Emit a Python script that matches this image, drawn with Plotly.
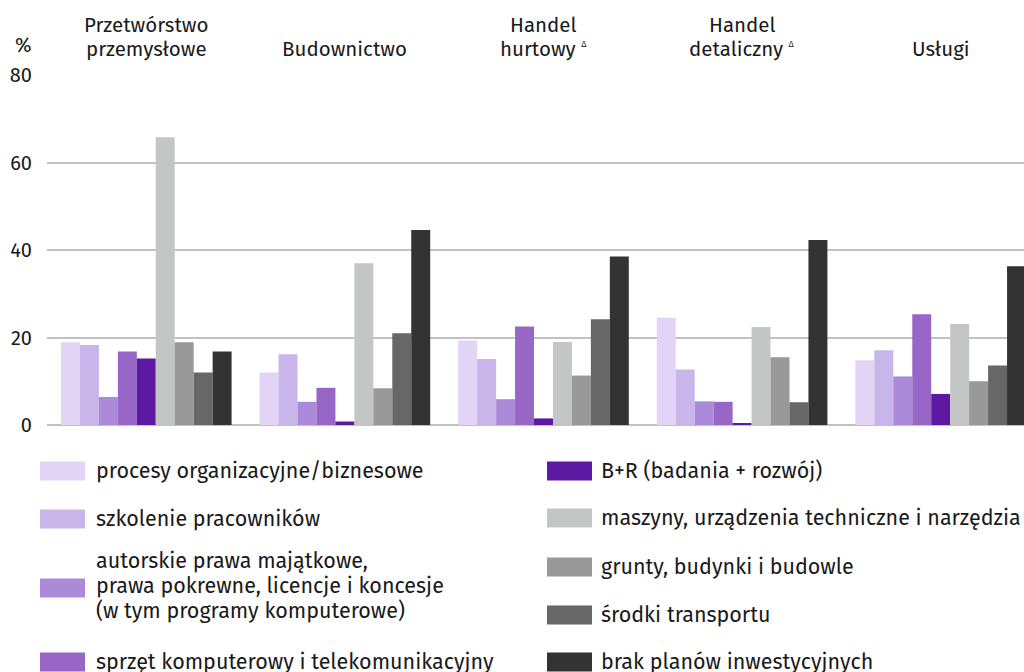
import plotly.graph_objects as go

# ---- data ----
categories = ["Przetwórstwo przemysłowe", "Budownictwo", "Handel hurtowy", "Handel detaliczny", "Usługi"]
category_lines = [
    ["Przetwórstwo", "przemysłowe"],
    ["", "Budownictwo"],
    ["Handel", "hurtowy <sup><span style='font-size:9px'>Δ</span></sup>"],
    ["Handel", "detaliczny <sup><span style='font-size:9px'>Δ</span></sup>"],
    ["", "Usługi"],
]

series_names = [
    "procesy organizacyjne/biznesowe",
    "szkolenie pracowników",
    "autorskie prawa majątkowe, prawa pokrewne, licencje i koncesje (w tym programy komputerowe)",
    "sprzęt komputerowy i telekomunikacyjny",
    "B+R (badania + rozwój)",
    "maszyny, urządzenia techniczne i narzędzia",
    "grunty, budynki i budowle",
    "środki transportu",
    "brak planów inwestycyjnych",
]
legend_lines = [
    ["procesy organizacyjne/biznesowe"],
    ["szkolenie pracowników"],
    ["autorskie prawa majątkowe,", "prawa pokrewne, licencje i koncesje", "(w tym programy komputerowe)"],
    ["sprzęt komputerowy i telekomunikacyjny"],
    ["B+R (badania + rozwój)"],
    ["maszyny, urządzenia techniczne i narzędzia"],
    ["grunty, budynki i budowle"],
    ["środki transportu"],
    ["brak planów inwestycyjnych"],
]

procesy = [18.9, 12.0, 19.3, 24.5, 14.8]
szkolenie = [18.3, 16.2, 15.1, 12.7, 17.1]
autorskie = [6.4, 5.3, 5.9, 5.4, 11.1]
sprzet = [16.8, 8.5, 22.5, 5.3, 25.3]
badania = [15.2, 0.8, 1.5, 0.3, 7.1]
maszyny = [65.8, 37.0, 19.0, 22.4, 23.1]
grunty = [18.9, 8.4, 11.3, 15.5, 10.0]
transport = [12.0, 21.0, 24.2, 5.2, 13.6]
brak = [16.8, 44.6, 38.5, 42.3, 36.3]

series_values = [procesy, szkolenie, autorskie, sprzet, badania, maszyny, grunty, transport, brak]

colors = ["#E1D4F6", "#C8B5EA", "#AB8BD9", "#9866C7", "#5E19A3",
          "#C4C6C5", "#999999", "#676767", "#333333"]

y_ticks = [0, 20, 40, 60, 80]

# ---- layout constants ----
W, H = 1024, 672
ML, MR, MT, MB = 47, 0, 75, 247
plot_w = W - ML - MR
plot_h = H - MT - MB
FONT = "Fira Sans, Open Sans, sans-serif"
TXT = "#1a1a1a"


def px_x(p):
    return (p - ML) / plot_w


def px_y(p):
    return (H - MB - p) / plot_h


fig = go.Figure()
for name, vals, col in zip(series_names, series_values, colors):
    fig.add_trace(go.Bar(
        x=categories, y=vals, name=name,
        marker=dict(color=col, line=dict(width=0)),
        showlegend=False, hoverinfo="y+name",
    ))

# category labels above the groups (one annotation per line)
for cat, lines in zip(categories, category_lines):
    for line, cy in zip(lines, [25.5, 49]):
        if not line:
            continue
        fig.add_annotation(
            x=cat, xref="x", y=px_y(cy), yref="paper", yanchor="middle", xanchor="center",
            text=line, showarrow=False,
            font=dict(family=FONT, size=20.5, color=TXT),
        )

# unit label
fig.add_annotation(x=px_x(23), xref="paper", y=px_y(45), yref="paper",
                   text="%", showarrow=False, xanchor="center", yanchor="middle",
                   font=dict(family=FONT, size=20, color=TXT))

# manual legend (two columns)
left_centers = [471, 519, 588, 662]
right_centers = [471, 518, 567, 615, 662]
positions = [(40, 94, c) for c in left_centers] + [(547, 599, c) for c in right_centers]
for (sx, tx, cy), lines, col in zip(positions, legend_lines, colors):
    fig.add_shape(type="rect", xref="paper", yref="paper",
                  x0=px_x(sx), x1=px_x(sx + 45), y0=px_y(cy - 9.5), y1=px_y(cy + 9.5),
                  fillcolor=col, line=dict(width=0))
    n = len(lines)
    for i, line in enumerate(lines):
        ly = cy + (i - (n - 1) / 2) * 25 - (2 if n > 1 else 0)
        fig.add_annotation(x=px_x(tx), xref="paper", y=px_y(ly), yref="paper",
                           text=line, showarrow=False, xanchor="left", yanchor="middle",
                           align="left", font=dict(family=FONT, size=21.5, color=TXT))

cat_px = 198.6
x_end = 4.5 - (ML + 5 * cat_px - W) / cat_px

fig.update_layout(
    width=W, height=H,
    margin=dict(l=ML, r=MR, t=MT, b=MB, pad=0),
    paper_bgcolor="white", plot_bgcolor="white",
    barmode="group", bargap=0.141, bargroupgap=0,
    font=dict(family=FONT, size=20, color=TXT),
    xaxis=dict(showticklabels=False, showgrid=False, zeroline=False,
               range=[-0.5, x_end], fixedrange=True),
    yaxis=dict(range=[0, 80], tickvals=y_ticks, showgrid=True,
               gridcolor="#C2C2C2", gridwidth=1.5,
               zeroline=True, zerolinecolor="#C2C2C2", zerolinewidth=1.5,
               ticks="outside", ticklen=10, tickcolor="rgba(0,0,0,0)",
               tickfont=dict(family=FONT, size=20, color=TXT), fixedrange=True),
)

fig.write_html("out.html",
               config={"displayModeBar": False},
               post_script="document.body.style.margin='0px';document.body.style.overflow='hidden';")
